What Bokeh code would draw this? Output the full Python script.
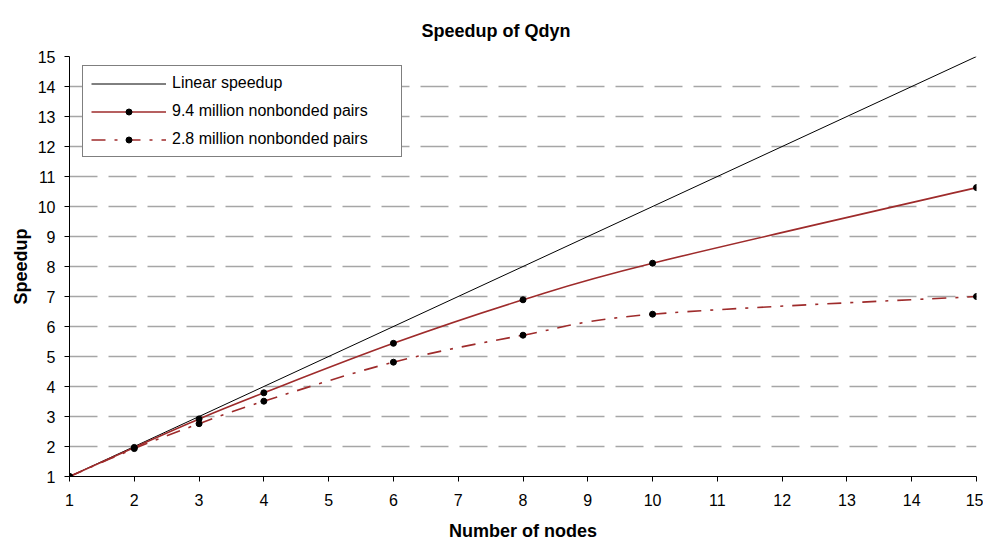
from bokeh.plotting import figure
from bokeh.models import Range1d, FixedTicker, Legend, LegendItem, ColumnDataSource
from bokeh.embed import file_html
from bokeh.resources import INLINE

# ---- data ----
nodes = [1, 2, 3, 4, 6, 8, 10, 15]
speedup_9_4M = [1.0, 1.97, 2.92, 3.79, 5.44, 6.89, 8.11, 10.63]
speedup_2_8M = [1.0, 1.93, 2.76, 3.51, 4.81, 5.71, 6.41, 7.0]
linear_nodes = [1, 15]
linear_speedup = [1, 15]
tick_values = list(range(1, 16))

labels = ["Linear speedup", "9.4 million nonbonded pairs", "2.8 million nonbonded pairs"]
title_text = "Speedup of Qdyn"
x_label = "Number of nodes"
y_label = "Speedup"

FONT = "Liberation Sans"
RED = "#9E2B2B"
DASH = "14 9 3 9"


def smooth_segments(xs, ys, t=1.0 / 6.0):
    """Excel-like smoothed line: cubic Bezier control points per segment."""
    n = len(xs)
    d = dict(x0=[], y0=[], x1=[], y1=[], cx0=[], cy0=[], cx1=[], cy1=[])
    for i in range(n - 1):
        xp, yp = (xs[i - 1], ys[i - 1]) if i > 0 else (xs[i], ys[i])
        xn, yn = (xs[i + 2], ys[i + 2]) if i + 2 < n else (xs[i + 1], ys[i + 1])
        d["x0"].append(xs[i]); d["y0"].append(ys[i])
        d["x1"].append(xs[i + 1]); d["y1"].append(ys[i + 1])
        d["cx0"].append(xs[i] + (xs[i + 1] - xp) * t)
        d["cy0"].append(ys[i] + (ys[i + 1] - yp) * t)
        d["cx1"].append(xs[i + 1] - (xn - xs[i]) * t)
        d["cy1"].append(ys[i + 1] - (yn - ys[i]) * t)
    return ColumnDataSource(d)


p = figure(width=983, height=543, output_backend="svg", toolbar_location=None,
           x_range=Range1d(1, 15), y_range=Range1d(1, 15),
           min_border_left=69, min_border_right=7, min_border_top=56, min_border_bottom=67)
p.outline_line_color = None
p.background_fill_color = "white"
p.border_fill_color = "white"

# title
p.title.text = title_text
p.title.text_font = FONT
p.title.text_font_size = "18px"
p.title.text_font_style = "bold"
p.title.text_color = "black"
p.title.align = "left"
p.title.offset = 352
p.title.standoff = 32

# axes
for ax in (p.xaxis[0], p.yaxis[0]):
    ax.ticker = FixedTicker(ticks=tick_values)
    ax.axis_line_color = "black"
    ax.axis_line_width = 1
    ax.major_tick_line_color = "black"
    ax.major_tick_out = 5
    ax.major_tick_in = 0
    ax.minor_tick_line_color = None
    ax.major_label_text_font = FONT
    ax.major_label_text_font_size = "16px"
    ax.major_label_text_color = "black"
    ax.axis_label_text_font = FONT
    ax.axis_label_text_font_size = "18px"
    ax.axis_label_text_font_style = "bold"
    ax.axis_label_text_color = "black"

p.xaxis.axis_label = x_label
p.yaxis.axis_label = y_label
p.xaxis.major_label_standoff = 12
p.xaxis.axis_label_standoff = 12
p.yaxis.major_label_standoff = 9
p.yaxis.axis_label_standoff = 4

# grid
p.xgrid.visible = False
p.ygrid.grid_line_color = "#A6A6A6"
p.ygrid.grid_line_width = 1.6
p.ygrid.grid_line_dash = "28 11"

# series
lin = p.line(linear_nodes, linear_speedup, line_color="black", line_width=1)

src94 = smooth_segments(nodes, speedup_9_4M)
c94 = p.bezier(x0="x0", y0="y0", x1="x1", y1="y1", cx0="cx0", cy0="cy0", cx1="cx1", cy1="cy1",
               source=src94, line_color=RED, line_width=1.6)
src28 = smooth_segments(nodes, speedup_2_8M)
c28 = p.bezier(x0="x0", y0="y0", x1="x1", y1="y1", cx0="cx0", cy0="cy0", cx1="cx1", cy1="cy1",
               source=src28, line_color=RED, line_width=1.6, line_dash=DASH)

m94 = p.scatter(nodes, speedup_9_4M, marker="circle", size=6, fill_color="black", line_color="black")
m28 = p.scatter(nodes, speedup_2_8M, marker="circle", size=6, fill_color="black", line_color="black")

legend = Legend(items=[
    LegendItem(label=labels[0], renderers=[lin]),
    LegendItem(label=labels[1], renderers=[c94, m94]),
    LegendItem(label=labels[2], renderers=[c28, m28]),
], location=(13, 319), padding=8, spacing=10, glyph_width=75, glyph_height=15,
    label_height=15, label_width=221, label_standoff=6, margin=0,
    border_line_color="black", border_line_width=1, background_fill_color="white",
    background_fill_alpha=1.0, label_text_font=FONT, label_text_font_size="16px",
    label_text_color="black")
p.add_layout(legend)

open("out.html", "w").write(file_html(p, INLINE))
